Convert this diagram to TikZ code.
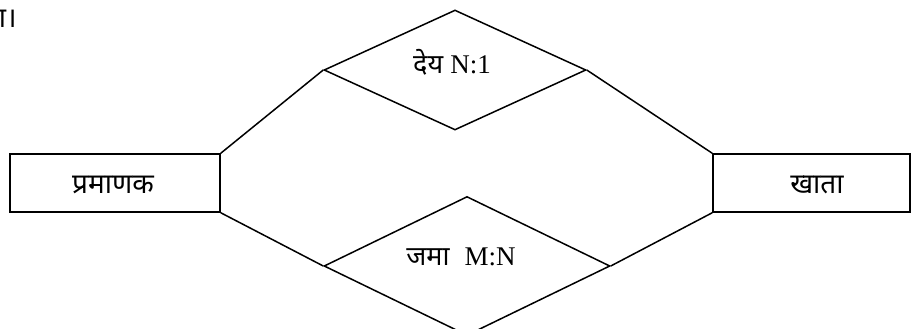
\documentclass[tikz,border=0pt]{standalone}
\usepackage{fontspec}
\newfontfamily\deva[Script=Devanagari]{Noto Sans}
\newfontfamily\lat{Liberation Serif}
\usetikzlibrary{shapes.geometric}
\tikzset{
  ent/.style={draw, line width=1.5pt, inner sep=0pt, minimum height=58pt},
  rel/.style={draw, diamond, line width=1.5pt, inner sep=0pt},
  lbl/.style={inner sep=0pt, font=\fontsize{28}{34}\selectfont},
  rlbl/.style={inner sep=0pt, font=\fontsize{27}{32}\selectfont},
  conn/.style={line width=1.5pt},
}
\begin{document}
\begin{tikzpicture}[x=1pt,y=-1pt]
\useasboundingbox (0,0) rectangle (911,329);
\node[ent, minimum width=210pt] (lbox) at (115,183) {};
\node[ent, minimum width=197pt] (rbox) at (811.5,183) {};
\node[rel, minimum width=262pt, minimum height=120pt] (top) at (455,70) {};
\node[rel, minimum width=286pt, minimum height=139pt] (bot) at (467,266) {};
\node[lbl, anchor=base] (tl) at (113,193) {\deva प्रमाणक};
\node[lbl, anchor=base] (tr) at (817,193) {\deva खाता};
\node[rlbl, anchor=base] (tt) at (452,74) {\deva देय \lat N:1};
\node[rlbl, anchor=base] (tb) at (461,265) {\deva जमा\hspace{0.3em} \lat M:N};
\node[lbl, anchor=base east] (frag) at (17,28) {\deva था।};
\draw[conn] (lbox.north east) -- (top.west);
\draw[conn] (top.east) -- (rbox.north west);
\draw[conn] (lbox.south east) -- (bot.west);
\draw[conn] (bot.east) -- (rbox.south west);
\end{tikzpicture}
\end{document}
